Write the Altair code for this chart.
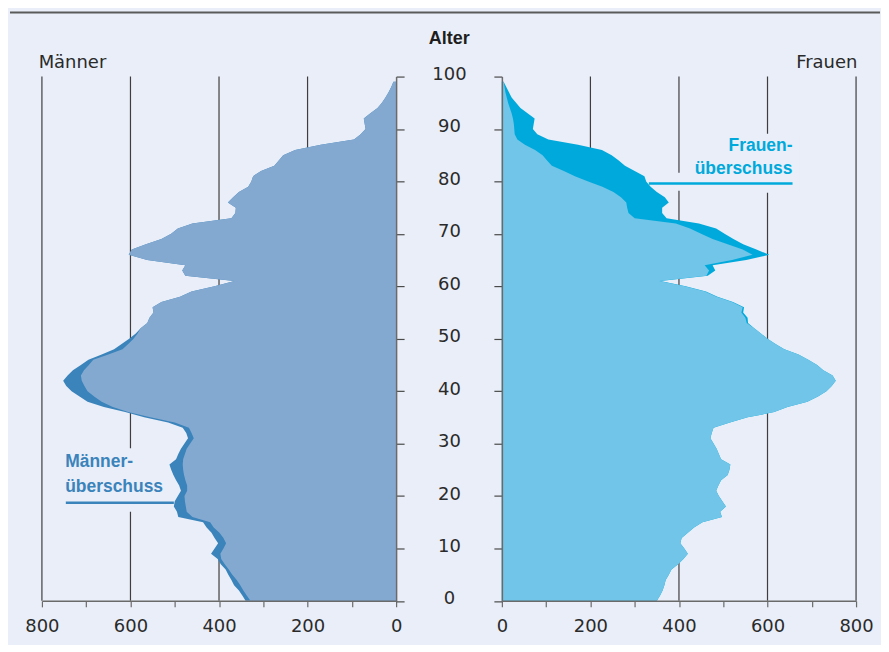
import altair as alt
import pandas as pd

# ---------------- data (in thousands) ----------------
ages = list(range(100))

men = [340, 347, 355, 366, 372, 379, 385, 396, 403, 418,
       410, 402, 410, 417, 428, 436, 492, 495, 502, 500,
       493, 486, 490, 497, 503, 508, 512, 497, 492, 486,
       478, 470, 474, 482, 515, 569, 612, 660, 697, 715,
       733, 745, 752, 742, 730, 712, 695, 665, 637, 620,
       603, 588, 577, 562, 557, 548, 550, 530, 488, 462,
       410, 365, 476, 483, 476, 562, 604, 597, 565, 530,
       508, 493, 460, 372, 363, 362, 380, 368, 355, 334,
       327, 323, 305, 275, 265, 255, 228, 170, 95, 80,
       69, 71, 73, 58, 42, 32, 24, 17, 11, 6]

# inner edge of the men's light area (men minus "Männerüberschuss")
men_inner = [329, 337, 345, 352, 360, 370, 378, 387, 395, 397,
             390, 384, 390, 399, 412, 420, 460, 473, 475, 477,
             478, 472, 472, 476, 479, 481, 482, 481, 477, 473,
             465, 457, 462, 468, 500, 555, 605, 640, 665, 682,
             697, 704, 710, 712, 705, 694, 684, 650, 618, 605,
             593, 584, 577] + men[53:]

women = [350, 357, 363, 367, 370, 377, 383, 398, 410, 420,
         412, 403, 406, 420, 434, 453, 497, 493, 506, 498,
         490, 484, 489, 495, 510, 514, 516, 495, 490, 485,
         478, 471, 474, 478, 515, 555, 615, 645, 690, 714,
         733, 745, 754, 747, 726, 712, 692, 670, 638, 618,
         600, 585, 570, 556, 555, 545, 547, 522, 487, 461,
         415, 358, 465, 482, 476, 552, 604, 575, 545, 523,
         503, 484, 445, 372, 362, 362, 377, 368, 350, 336,
         326, 322, 300, 278, 264, 248, 226, 172, 105, 80,
         70, 72, 74, 58, 42, 32, 22, 16, 10, 4]

# inner edge of the women's light area (women minus "Frauenüberschuss")
women_inner = women[:53] + [553, 550, 541, 544, 520, 485, 459,
                            413, 356, 462, 468, 458, 520, 566, 544, 510, 476,
                            450, 425, 393, 300, 286, 283, 281, 269, 252, 227,
                            195, 165, 140, 113, 102, 92, 75, 52, 35, 29,
                            28, 27, 25, 22, 18, 14, 11, 8, 6, 4]

grid_values = [200, 400, 600, 800]
age_ticks = list(range(0, 101, 10))
value_ticks = list(range(0, 801, 100))

# annotations (value, age)
men_note_text = ["Männer-", "überschuss"]
men_note_age = [25.5, 20.8]
men_note_value = 747.5
men_note_line = {"v1": 746, "v2": 502, "a": 18.7}

women_note_text = ["Frauen-", "überschuss"]
women_note_age = [85.8, 81.4]
women_note_value = 656.5
women_note_line = {"v1": 332, "v2": 656.5, "a": 79.6}

# ---------------- styles ----------------
BG = "#e9eef8"
MEN_LIGHT = "#84a9d0"
MEN_DARK = "#3a83bb"
WOMEN_LIGHT = "#70c5e8"
WOMEN_DARK = "#00a9db"
TXT = "#2a2a2a"
PW, PH = 355, 525.5

df = pd.DataFrame({"age": ages, "men": men, "men_inner": men_inner,
                   "women": women, "women_inner": women_inner})
grid_df = pd.DataFrame({"v": grid_values, "a0": 0, "a1": 100})

xl = alt.Scale(domain=[0, 800], reverse=True, nice=False, zero=False)
xr = alt.Scale(domain=[0, 800], nice=False, zero=False)
ys = alt.Scale(domain=[0, 100], nice=False, zero=False)


def x_axis():
    return alt.Axis(values=value_ticks,
                    labelExpr="datum.value % 200 === 0 ? datum.label : ''",
                    tickSize=6, tickColor="#6a6a6a", tickWidth=1.2,
                    domainColor="#6a6a6a", domainWidth=1.5,
                    labelFont="DejaVu Sans", labelFontSize=18, labelColor=TXT,
                    labelPadding=11, labelFlush=False, labelOverlap=False,
                    grid=False, title=None, zindex=1)


def y_axis_left_panel():
    return alt.Axis(orient="right", values=age_ticks, tickSize=8,
                    tickColor="#4a4a4a", tickWidth=1.2,
                    domainColor="#6a6a6a", domainWidth=1.5,
                    labelAlign="center", labelBaseline="middle",
                    labelPadding=45, labelOffset=-2, labelFlush=False,
                    labelFont="DejaVu Sans", labelFontSize=18, labelColor=TXT,
                    grid=False, title=None, zindex=1)


def y_axis_right_panel():
    return alt.Axis(orient="left", values=age_ticks, tickSize=8,
                    tickColor="#4a4a4a", tickWidth=1.2,
                    domainColor="#6a6a6a", domainWidth=1.5,
                    labels=False, grid=False, title=None, zindex=1)


def X(field, scale):
    return alt.X(field, type="quantitative", scale=scale, axis=x_axis())


def X2(field):
    return alt.X2(field)


# ---------------- left panel: Männer ----------------
YL = lambda f: alt.Y(f, type="quantitative", scale=ys, axis=y_axis_left_panel())

l_grid = alt.Chart(grid_df).mark_rule(color="#3e3e3e", strokeWidth=1.2).encode(
    x=X("v", xl), y=YL("a0"), y2=alt.Y2("a1"))

l_knock = alt.Chart(pd.DataFrame({"v1": [760], "v2": [520], "a1": [17.0], "a2": [29.1]})).mark_rect(
    color=BG).encode(x=X("v1", xl), x2=X2("v2"), y=YL("a1"), y2=alt.Y2("a2"))

l_dark = alt.Chart(df).mark_area(orient="horizontal", color=MEN_DARK).encode(
    x=X("men", xl), y=YL("age"))
l_light = alt.Chart(df).mark_area(orient="horizontal", color=MEN_LIGHT).encode(
    x=X("men_inner", xl), y=YL("age"))

l_note_line = alt.Chart(pd.DataFrame([men_note_line])).mark_rule(
    color=MEN_DARK, strokeWidth=2.5).encode(x=X("v1", xl), x2=X2("v2"), y=YL("a"))
l_note_text = alt.Chart(pd.DataFrame({"t": men_note_text, "a": men_note_age,
                                      "v": men_note_value})).mark_text(
    align="left", baseline="alphabetic", font="Liberation Sans", fontWeight="bold",
    fontSize=17.5, color=MEN_DARK).encode(x=X("v", xl), y=YL("a"), text="t:N")

l_labels = alt.Chart(pd.DataFrame({"t": ["Männer"], "v": [807.4], "a": [101.6]})).mark_text(
    align="left", baseline="alphabetic", font="DejaVu Sans", fontSize=18,
    color=TXT).encode(x=X("v", xl), y=YL("a"), text="t:N")
l_alter = alt.Chart(pd.DataFrame({"t": ["Alter"], "v": [-120], "a": [106.2]})).mark_text(
    align="center", baseline="alphabetic", font="Liberation Sans", fontWeight="bold",
    fontSize=18, color="#1e1e1e").encode(x=X("v", xl), y=YL("a"), text="t:N")

top_rule = alt.Chart(pd.DataFrame({"k": [0]})).mark_rule(
    color="#5a5a5a", strokeWidth=2).encode(
    x=alt.value(-32), x2=alt.value(840), y=alt.value(-64.3))

left = alt.layer(l_grid, l_knock, l_dark, l_light, l_note_line, l_note_text,
                 l_labels, l_alter, top_rule).properties(width=PW, height=PH)

# ---------------- right panel: Frauen ----------------
YR = lambda f: alt.Y(f, type="quantitative", scale=ys, axis=y_axis_right_panel())

r_grid = alt.Chart(grid_df).mark_rule(color="#3e3e3e", strokeWidth=1.2).encode(
    x=X("v", xr), y=YR("a0"), y2=alt.Y2("a1"))

r_knock = alt.Chart(pd.DataFrame({"v1": [423.7, 332], "v2": [671.5, 671.5],
                                  "a1": [77.85, 78.2], "a2": [89.1, 81.66]})).mark_rect(
    color=BG).encode(x=X("v1", xr), x2=X2("v2"), y=YR("a1"), y2=alt.Y2("a2"))

r_dark = alt.Chart(df).mark_area(orient="horizontal", color=WOMEN_DARK).encode(
    x=X("women", xr), y=YR("age"))
r_light = alt.Chart(df).mark_area(orient="horizontal", color=WOMEN_LIGHT).encode(
    x=X("women_inner", xr), y=YR("age"))

r_note_line = alt.Chart(pd.DataFrame([women_note_line])).mark_rule(
    color=WOMEN_DARK, strokeWidth=2.5).encode(x=X("v1", xr), x2=X2("v2"), y=YR("a"))
r_note_text = alt.Chart(pd.DataFrame({"t": women_note_text, "a": women_note_age,
                                      "v": women_note_value})).mark_text(
    align="right", baseline="alphabetic", font="Liberation Sans", fontWeight="bold",
    fontSize=17.5, color=WOMEN_DARK).encode(x=X("v", xr), y=YR("a"), text="t:N")

r_labels = alt.Chart(pd.DataFrame({"t": ["Frauen"], "v": [803], "a": [101.6]})).mark_text(
    align="right", baseline="alphabetic", font="DejaVu Sans", fontSize=18,
    color=TXT).encode(x=X("v", xr), y=YR("a"), text="t:N")

right = alt.layer(r_grid, r_knock, r_dark, r_light, r_note_line, r_note_text,
                  r_labels).properties(width=PW, height=PH)

chart = alt.hconcat(left, right, spacing=106, bounds="flush").properties(
    padding={"left": 1, "top": 2, "right": 0, "bottom": 8}
).configure(background=BG).configure_view(strokeWidth=0)

chart.save("out.html", embed_options={"renderer": "svg", "actions": False})
